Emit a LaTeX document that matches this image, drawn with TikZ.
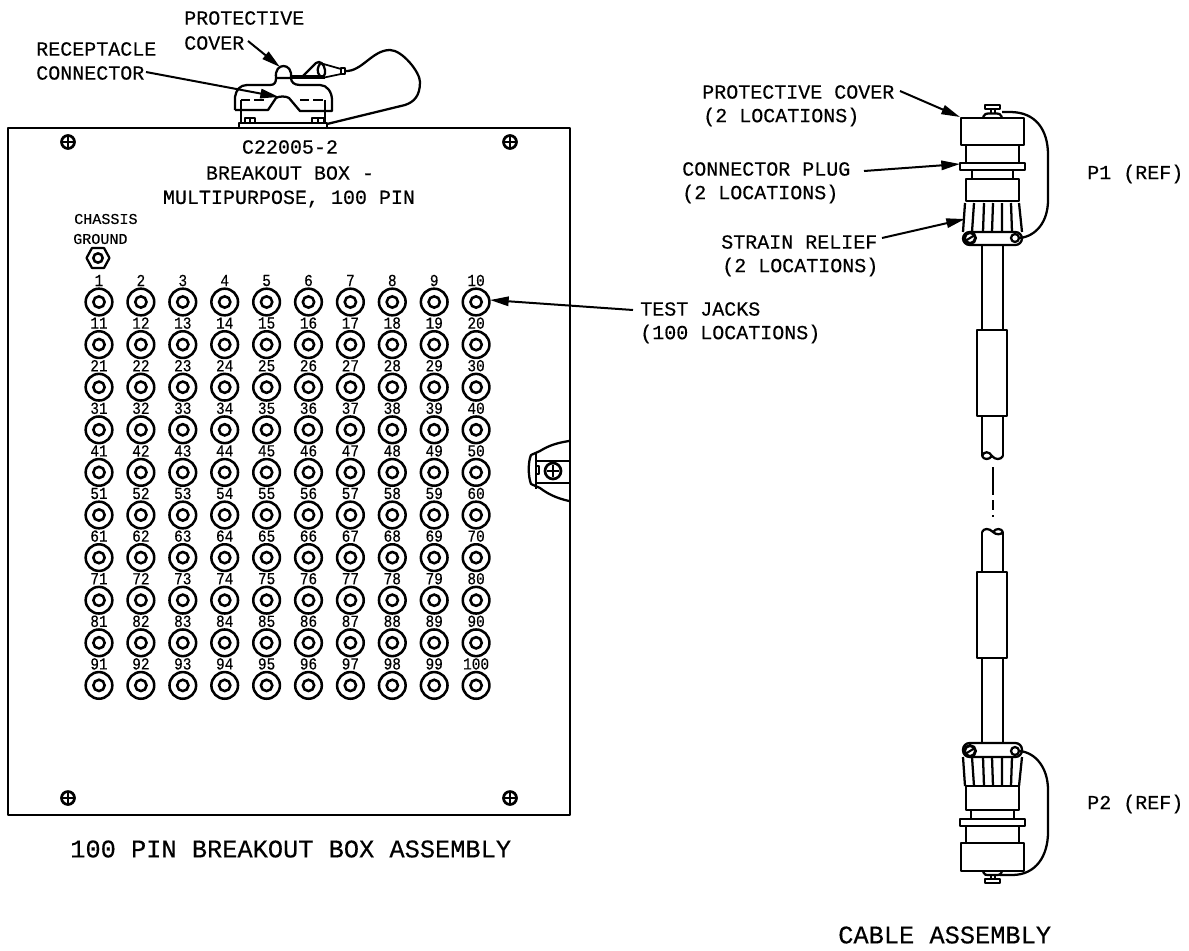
\documentclass[tikz,border=0pt]{standalone}
\usepackage{fontspec}
\setmainfont[FakeBold=0.35]{Liberation Mono}
\newfontfamily\numfont[FakeStretch=0.86,FakeBold=0.25]{Liberation Mono}
\usetikzlibrary{arrows.meta}
\tikzset{
 lw/.style={line width=1.7pt,line join=round},
 hair/.style={line width=1.3pt,line join=round},
 lab/.style={inner sep=0pt,anchor=west,font=\fontsize{15pt}{18pt}\selectfont},
 labs/.style={inner sep=0pt,anchor=west,font=\fontsize{11.3pt}{14pt}\selectfont},
 big/.style={inner sep=0pt,anchor=west,font=\fontsize{19pt}{22pt}\selectfont},
 num/.style={inner sep=0pt,anchor=center,font=\numfont\fontsize{12.6pt}{13pt}\selectfont},
 arr/.style={line width=1.5pt,-{Triangle[length=14pt,width=7pt]}},
 jack/.style={circle,draw,line width=1.9pt,minimum size=20pt,inner sep=0pt},
 jackin/.style={circle,draw,line width=1.9pt,minimum size=8.5pt,inner sep=0pt},
}
\newcommand{\pscrew}[3]{%
 \draw[line width=2pt] (#1,#2) circle[radius=#3];
 \draw[hair] ({#1-#3*0.7},#2) -- ({#1+#3*0.7},#2) (#1,{#2-#3*0.7}) -- (#1,{#2+#3*0.7});}
\begin{document}
\begin{tikzpicture}[x=0.75pt,y=-0.75pt]
\useasboundingbox (0,0) rectangle (1189,950);
% ---- breakout box
\draw[lw] (8,128) rectangle (570,815);
\pscrew{68}{142}{6.5}\pscrew{510}{142}{6.5}\pscrew{68}{798}{6.5}\pscrew{510}{798}{6.5}
\node[lab,anchor=center] (t1) at (290,147) {C22005-2};
\node[lab,anchor=center] (t2) at (290,173) {BREAKOUT BOX -};
\node[lab,anchor=center] (t3) at (289,199) {MULTIPURPOSE, 100 PIN};
\node[labs] (cg1) at (74,219) {CHASSIS};
\node[labs] (cg2) at (73,239) {GROUND};
\draw[lw] (86.5,258) -- (92,248) -- (104,248) -- (109.5,258) -- (104,268) -- (92,268) -- cycle;
\node[jackin,minimum size=7pt] (gnd) at (98,258) {};
% jacks
\foreach \r in {0,...,9}{
 \foreach \c in {0,...,9}{
  \pgfmathsetmacro{\jx}{99+41.9*\c}
  \pgfmathsetmacro{\jy}{302+42.6*\r}
  \pgfmathsetmacro{\jl}{\jy-21.5}
  \pgfmathtruncatemacro{\jn}{\r*10+\c+1}
  \node[jack] (j\jn) at (\jx,\jy) {};
  \node[jackin] (k\jn) at (\jx,\jy) {};
  \node[num] (n\jn) at (\jx,\jl) {\jn};
 }
}
% side latch
\draw[lw] (569,441) .. controls (556,443) and (548,446) .. (540,451) -- (531,455) .. controls (528,462) and (528,476) .. (531,484) -- (540,488) .. controls (548,494) and (556,498) .. (569,501);
\draw[lw] (536,452) -- (536,489);
\draw[lw] (536,461) -- (569,461) (536,483) -- (569,483);
\draw[hair] (536,466) -- (539,466) -- (539,474) -- (536,474);
\pscrew{553}{471}{8}
% ---- top connector
\draw[lw] (239,127) -- (239,123) -- (327,123) -- (327,127);
\draw[lw] (241,100) -- (241,123) (325,100) -- (325,123);
\draw[hair] (245,123) rectangle (255,118) (250,118) -- (250,123) (312,123) rectangle (324,118) (318,118) -- (318,123);
\draw[lw] (235,110) -- (235,97) .. controls (236,90) and (240,85) .. (247,85) -- (270,85) .. controls (275,85) and (276,82) .. (276,78) -- (291,78) .. controls (291,82) and (294,85) .. (300,85) -- (320,85) .. controls (327,85) and (332,92) .. (332,100) -- (332,111) -- (325,111);
\draw[lw] (235,110) -- (268,110) -- (276,98) .. controls (279,96) and (286,96) .. (289,98) -- (300,111) -- (325,111);
\draw[lw,dash pattern=on 7pt off 3pt] (241,100) -- (266,100) (300,100) -- (325,100);
\draw[lw] (276,78) .. controls (275,70) and (279,66) .. (283.5,66) .. controls (288,66) and (292,70) .. (291,78);
\draw[line width=2.4pt] (291,77) -- (325,77);
\draw[lw] (303,76) -- (316,63) .. controls (320,60) and (324,64) .. (325,70) .. controls (326,75) and (323,78) .. (320,76) .. controls (316,72) and (318,66) .. (320,64);
\draw[hair] (320,63) -- (341,69) -- (341,74) -- (322,78);
\draw[lw] (341,68) rectangle (345,74);
\draw[lw] (345,71) .. controls (362,72) and (372,50) .. (390,50) .. controls (402,50) and (420,72) .. (420,82) .. controls (420,96) and (414,102) .. (405,105) -- (327,124);
\coordinate (tipcover) at (280,67); \coordinate (fromcover) at (248,41);
\coordinate (tiprec) at (279,97); \coordinate (fromrec) at (146,72);
\draw[arr] (fromcover) -- (tipcover);
\draw[arr] (fromrec) -- (tiprec);
\node[lab] (pc1) at (184,18) {PROTECTIVE};
\node[lab] (pc2) at (184,43) {COVER};
\node[lab] (rc1) at (36,49) {RECEPTACLE};
\node[lab] (rc2) at (36,73) {CONNECTOR};
% test jack arrow
\coordinate (fromtest) at (633,310);
\coordinate (tiptest) at (490,300);
\draw[arr] (fromtest) -- (tiptest);
\node[lab] (tj1) at (640,309) {TEST JACKS};
\node[lab] (tj2) at (640,334) {(100 LOCATIONS)};
\node[big] (tb) at (70,849) {100 PIN BREAKOUT BOX ASSEMBLY};
% ---- cable, upper
\draw[lw] (983,117) .. controls (984,114) and (986,113.5) .. (990,113.5) -- (995,113.5) .. controls (999,113.5) and (1001,114) .. (1002,117);
\draw[lw] (991,113) -- (991,109) (995,113) -- (995,109);
\draw[lw] (985,105) rectangle (1000,109);
\draw[lw] (961,118) rectangle (1024,145);
\draw[lw] (966,145) -- (966,163) (1019,145) -- (1019,163);
\draw[lw] (960,163) rectangle (1025,170);
\draw[lw] (972,170) -- (972,179) (1013,170) -- (1013,179);
\draw[lw] (966,179) rectangle (1019,201);
\draw[lw] (965,203) -- (963,232) (1019,203) -- (1022,232);
\draw[lw] (974,203) -- (972,232) (984,203) -- (983,232) (993,203) -- (992,232) (1002,203) -- (1002,232) (1011,203) -- (1012,232);
\draw[lw,rounded corners=5pt] (963,232) rectangle (1022,245);
\draw[line width=2.2pt,fill=white] (970,238) circle[radius=5.5];
\draw[line width=1.6pt] (966,240.5) -- (974,235.5);
\draw[lw,fill=white] (1015,238) circle[radius=4];
\draw[lw] (1002,112) -- (1010,112) .. controls (1036,112) and (1048,130) .. (1048,155) -- (1048,200) .. controls (1048,222) and (1036,236) .. (1020,238);
\draw[lw] (982,245) -- (982,330) (1003,245) -- (1003,330);
\draw[lw] (977,330) rectangle (1007,416);
\draw[lw] (982,416) -- (982,456) (1003,416) -- (1003,456);
\draw[lw] (982,456) .. controls (984,451) and (989,451) .. (992,456) .. controls (995,460) and (1001,460) .. (1003,456);
\draw[lw] (982,456) .. controls (984,460) and (989,460) .. (992,456);
\coordinate (breaka) at (993,467); \coordinate (breakb) at (993,495);
\coordinate (breakc) at (993,500); \coordinate (breakd) at (993,510);
\coordinate (breake) at (993,515); \coordinate (breakf) at (993,517);
\draw[hair] (breaka) -- (breakb) (breakc) -- (breakd) (breake) -- (breakf);
% ---- cable, lower
\draw[lw] (982,532) .. controls (984,528) and (989,528) .. (993,532) .. controls (996,535) and (1001,535) .. (1003,532);
\draw[lw] (993,532) .. controls (996,528) and (1001,528) .. (1003,532);
\draw[lw] (982,532) -- (982,572) (1003,532) -- (1003,572);
\draw[lw] (977,572) rectangle (1007,658);
\draw[lw] (982,658) -- (982,743) (1003,658) -- (1003,743);
\draw[lw,rounded corners=5pt] (963,743) rectangle (1022,757);
\draw[line width=2.2pt,fill=white] (970,751) circle[radius=5.5];
\draw[line width=1.6pt] (966,753.5) -- (974,748.5);
\draw[lw,fill=white] (1015,751) circle[radius=4];
\draw[lw] (963,757) -- (965,786) (1022,757) -- (1019,786);
\draw[lw] (972,757) -- (974,786) (983,757) -- (984,786) (992,757) -- (993,786) (1002,757) -- (1002,786) (1012,757) -- (1011,786);
\draw[lw] (966,786) rectangle (1019,810);
\draw[lw] (971,810) -- (971,819) (1014,810) -- (1014,819);
\draw[lw] (960,819) rectangle (1025,826);
\draw[lw] (966,826) -- (966,843) (1019,826) -- (1019,843);
\draw[lw] (961,843) rectangle (1024,871);
\draw[lw] (983,872) .. controls (984,875) and (986,875) .. (990,875) -- (995,875) .. controls (999,875) and (1001,875) .. (1002,872);
\draw[lw] (991,875) -- (991,879) (995,875) -- (995,879);
\draw[lw] (985,879) rectangle (1000,883);
\draw[lw] (1000,875) -- (1012,875) .. controls (1036,875) and (1048,856) .. (1048,832) -- (1048,790) .. controls (1048,768) and (1036,753) .. (1020,751);
% labels
\coordinate (tp) at (960,117); \coordinate (fp) at (900,91);
\coordinate (tq) at (960,164); \coordinate (fq) at (864,171);
\coordinate (tr) at (965,219); \coordinate (fr) at (882,238);
\draw[arr] (fp) -- (tp);
\draw[arr] (fq) -- (tq);
\draw[arr] (fr) -- (tr);
\node[lab] (a1) at (702,92) {PROTECTIVE COVER};
\node[lab] (a2) at (703,117) {(2 LOCATIONS)};
\node[lab] (b1) at (682,169) {CONNECTOR PLUG};
\node[lab] (b2) at (682,194) {(2 LOCATIONS)};
\node[lab] (c1) at (721,242) {STRAIN RELIEF};
\node[lab] (c2) at (722,267) {(2 LOCATIONS)};
\node[lab] (p1) at (1087,174) {P1 (REF)};
\node[lab] (p2) at (1087,804) {P2 (REF)};
\node[big] (ca) at (838,935) {CABLE ASSEMBLY};
\end{tikzpicture}
\end{document}
